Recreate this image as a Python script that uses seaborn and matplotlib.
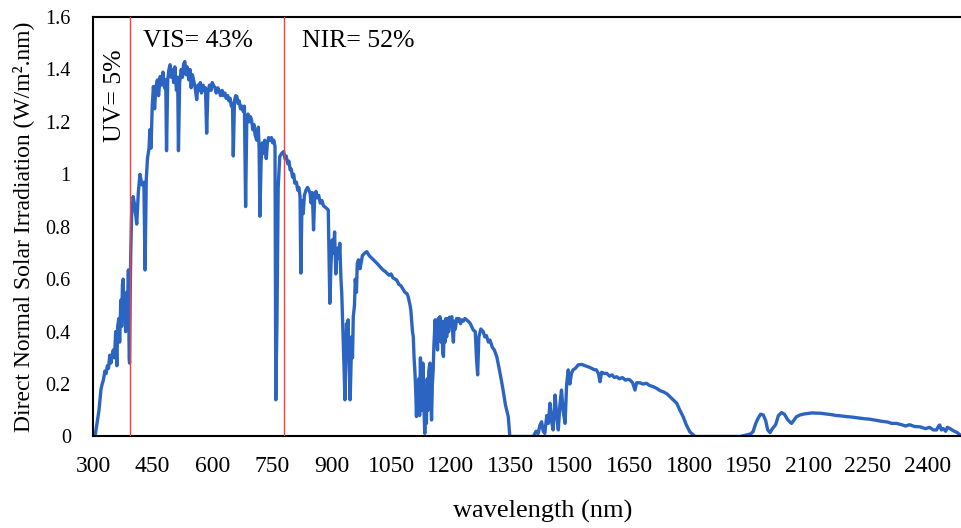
import matplotlib
matplotlib.use("Agg")
import matplotlib.pyplot as plt
import seaborn as sns
import pandas as pd
from matplotlib.ticker import FuncFormatter

# ---- data ----
# UV band (300-397 nm)
wl_uv = [300, 305, 310, 315, 320, 323, 326, 330, 333, 336, 339, 342, 345, 348, 351, 354, 357, 360,
         362, 365, 367, 370, 372, 374, 376, 378, 380, 382, 385, 387, 389, 391, 392, 394, 395, 397]
irr_uv = [0.0, 0.0, 0.05, 0.10, 0.18, 0.20, 0.215, 0.25, 0.24, 0.27, 0.26, 0.31, 0.28, 0.31, 0.33, 0.30, 0.40, 0.27,
          0.42, 0.45, 0.36, 0.52, 0.42, 0.58, 0.60, 0.45, 0.50, 0.40, 0.55, 0.45, 0.635, 0.30, 0.28, 0.60, 0.70, 0.84]

# visible band (401-780 nm)
wl_vis = [401, 405, 410, 414, 418, 423, 428, 431, 434, 437, 441,
          443, 446, 449, 452, 455, 458, 462, 465, 469, 472, 476, 480, 483, 485, 488, 491, 494, 497, 500, 503,
          506, 510, 513, 515, 518,
          522, 525, 528, 531, 534, 537, 541, 544, 547, 550, 553, 557, 561, 564, 567, 570, 573, 577, 580, 583,
          586, 589, 593, 597, 600,
          603, 607, 610, 614, 617, 621, 625, 628, 632, 635, 639, 642, 645, 648, 651, 653, 656, 659, 662, 665,
          668, 671, 675, 678, 681,
          684, 687, 690, 693, 696, 699, 702, 705, 708, 712, 716, 718, 720, 723, 726, 729, 732, 736, 739, 742,
          745, 749, 752, 755, 758,
          760, 763, 766, 770, 775, 780]
irr_vis = [0.915, 0.88, 0.81, 0.93, 1.0, 0.96, 0.97, 0.635, 0.98, 1.06, 1.10,
           1.17, 1.10, 1.26, 1.335, 1.25, 1.33, 1.36, 1.30, 1.373, 1.34, 1.39, 1.33, 1.36, 1.09, 1.36, 1.40, 1.418, 1.37, 1.40, 1.35,
           1.41, 1.32, 1.37, 1.09, 1.35,
           1.40, 1.37, 1.42, 1.43, 1.38, 1.41, 1.36, 1.40, 1.33, 1.38, 1.36, 1.33, 1.285, 1.34, 1.32, 1.35, 1.31, 1.34, 1.32, 1.33,
           1.157, 1.31, 1.34, 1.32, 1.35,
           1.34, 1.33, 1.31, 1.33, 1.32, 1.30, 1.32, 1.30, 1.31, 1.29, 1.30, 1.28, 1.29, 1.26, 1.27, 1.07, 1.28, 1.30, 1.297, 1.27,
           1.28, 1.25, 1.26, 1.24, 1.26,
           0.877, 1.21, 1.23, 1.20, 1.22, 1.208, 1.17, 1.19, 1.15, 1.13, 1.18, 1.10, 0.84, 1.05, 1.12, 1.08, 1.13, 1.06, 1.12, 1.14,
           1.13, 1.14, 1.12, 1.13, 1.106,
           0.14, 0.45, 0.95, 1.068, 1.08, 1.087]

# near-infrared band (783-2487 nm)
wl_nir = [783, 786, 790, 793, 796, 799, 802, 805, 808, 812, 815, 818, 821, 823, 826, 829, 832, 836, 840, 843,
          846, 849, 852, 855, 858, 861, 864, 868, 872, 876, 880, 884, 888, 892,
          896, 899, 902, 905, 908, 911, 914, 917, 919, 921, 924, 926, 928, 930, 932, 934, 936, 938, 940, 942,
          944, 947, 949, 951, 953, 955, 958, 960, 963, 965, 968,
          972, 978, 984, 989, 995, 1005, 1015, 1022, 1030, 1035, 1045, 1050, 1055, 1064, 1070, 1075, 1085, 1090, 1093, 1098,
          1100, 1104, 1106, 1108, 1110, 1112, 1114, 1116, 1118, 1120, 1122, 1124, 1126, 1128, 1130, 1133, 1135, 1137,
          1139, 1141, 1143, 1145, 1148, 1150, 1152, 1154, 1156, 1158,
          1161, 1163, 1165, 1167, 1169, 1171, 1173, 1176, 1178, 1180, 1182, 1184, 1186, 1188, 1190, 1193, 1195, 1197,
          1199, 1201, 1203, 1205, 1207, 1209, 1212, 1215, 1218, 1221, 1225, 1228, 1232, 1236, 1240, 1244, 1249,
          1257, 1262, 1265, 1268, 1271, 1276, 1282, 1286, 1290, 1295, 1299, 1305, 1310, 1316, 1322, 1327, 1332, 1338,
          1345, 1349, 1408,
          1415, 1420, 1425, 1429, 1433, 1437, 1442, 1446, 1450, 1454, 1458, 1463, 1467, 1471, 1475, 1479, 1483, 1488,
          1492, 1496, 1500, 1504, 1508,
          1514, 1521, 1530, 1538, 1546, 1555, 1561, 1567, 1572, 1576, 1580, 1587, 1593, 1600, 1606, 1612, 1618, 1625,
          1632, 1640, 1646, 1651, 1658, 1664, 1668, 1676, 1684, 1693, 1700, 1710, 1718, 1727, 1736, 1745, 1752, 1760,
          1769, 1777, 1785, 1793, 1802, 1815,
          1928, 1945, 1955, 1961, 1968, 1974, 1980, 1987, 1993, 1998, 2004, 2010, 2018, 2025,
          2033, 2040, 2048, 2054, 2058, 2063, 2070, 2079, 2090, 2100, 2110, 2120, 2129, 2140, 2150,
          2160, 2170, 2180, 2196, 2210, 2225, 2240, 2255, 2270, 2285, 2300, 2310, 2322, 2335, 2345,
          2355, 2368, 2381, 2395, 2405, 2415, 2423, 2428, 2431, 2435, 2440, 2446, 2450, 2456, 2465,
          2475, 2482, 2487]
irr_nir = [1.06, 1.07, 1.04, 1.05, 1.017, 1.02, 0.99, 1.0, 0.966, 0.97, 0.94, 0.95, 0.915, 0.623, 0.90, 0.85, 0.92, 0.94, 0.95, 0.94,
           0.93, 0.89, 0.93, 0.788, 0.92, 0.935, 0.91, 0.92, 0.89, 0.90, 0.88, 0.875, 0.87, 0.864,
           0.508, 0.66, 0.75, 0.70, 0.78, 0.62, 0.70, 0.72, 0.68, 0.737, 0.60, 0.546, 0.45, 0.35, 0.25, 0.14, 0.30, 0.43, 0.35, 0.445,
           0.30, 0.14, 0.25, 0.38, 0.30, 0.457, 0.50, 0.60, 0.55, 0.66, 0.674,
           0.64, 0.69, 0.70, 0.705, 0.69, 0.675, 0.66, 0.648, 0.635, 0.63, 0.615, 0.62, 0.605, 0.597, 0.58, 0.575, 0.55, 0.545, 0.534, 0.50,
           0.48, 0.40, 0.381, 0.30, 0.25, 0.18, 0.076, 0.20, 0.12, 0.22, 0.08, 0.30, 0.15, 0.10, 0.28, 0.10, 0.012, 0.15,
           0.05, 0.22, 0.10, 0.25, 0.28, 0.15, 0.063, 0.20, 0.25, 0.35,
           0.445, 0.35, 0.44, 0.33, 0.45, 0.38, 0.457, 0.36, 0.44, 0.32, 0.305, 0.44, 0.36, 0.45, 0.38, 0.45, 0.40, 0.455,
           0.42, 0.45, 0.457, 0.40, 0.36, 0.44, 0.41, 0.45, 0.44, 0.45, 0.43, 0.445, 0.44, 0.45, 0.445, 0.44, 0.432,
           0.406, 0.40, 0.30, 0.235, 0.38, 0.41, 0.40, 0.38, 0.385, 0.36, 0.368, 0.34, 0.33, 0.305, 0.26, 0.22, 0.177, 0.12,
           0.076, 0.0, 0.0,
           0.02, 0.01, 0.044, 0.056, 0.02, 0.012, 0.08, 0.05, 0.127, 0.06, 0.025, 0.158, 0.08, 0.025, 0.12, 0.177, 0.10, 0.05,
           0.20, 0.254, 0.20, 0.24, 0.254,
           0.26, 0.273, 0.275, 0.27, 0.266, 0.26, 0.255, 0.254, 0.24, 0.209, 0.245, 0.24, 0.241, 0.23, 0.235, 0.225, 0.228, 0.22,
           0.225, 0.215, 0.218, 0.216, 0.205, 0.177, 0.205, 0.205, 0.20, 0.203, 0.195, 0.19, 0.184, 0.175, 0.17, 0.162, 0.152, 0.14,
           0.127, 0.10, 0.076, 0.045, 0.018, 0.0,
           0.0, 0.006, 0.01, 0.018, 0.05, 0.07, 0.085, 0.082, 0.06, 0.025, 0.015, 0.03, 0.045, 0.08,
           0.091, 0.085, 0.065, 0.055, 0.05, 0.06, 0.075, 0.082, 0.086, 0.088, 0.09, 0.089, 0.089, 0.087, 0.085,
           0.083, 0.08, 0.079, 0.076, 0.074, 0.071, 0.068, 0.066, 0.062, 0.058, 0.055, 0.05, 0.05, 0.045, 0.04,
           0.045, 0.038, 0.037, 0.03, 0.035, 0.025, 0.025, 0.04, 0.044, 0.025, 0.03, 0.02, 0.035, 0.031, 0.022,
           0.015, 0.006, 0.002]

band_edges = [393, 780]
band_labels = ["UV= 5%", "VIS= 43%", "NIR= 52%"]
x_ticks = [300, 450, 600, 750, 900, 1050, 1200, 1350, 1500, 1650, 1800, 1950, 2100, 2250, 2400]
y_ticks = [0, 0.2, 0.4, 0.6, 0.8, 1.0, 1.2, 1.4, 1.6]

df = pd.DataFrame({"wavelength": wl_uv + wl_vis + wl_nir,
                   "irradiance": irr_uv + irr_vis + irr_nir})

sns.set_theme(style="white")
plt.rcParams["font.family"] = ["Liberation Serif", "DejaVu Serif"]

fig = plt.figure(figsize=(9.62, 5.28), dpi=100)
ax = fig.add_axes([0.0967, 0.1733, 0.9033, 0.7945])

sns.lineplot(data=df, x="wavelength", y="irradiance", ax=ax, color="#2b65c1",
             linewidth=2.4, sort=False, estimator=None)

for edge in band_edges:
    ax.axvline(edge, color="#ff3b3b", linewidth=1.0, zorder=3)

ax.text(355, 1.30, band_labels[0], rotation=90, fontsize=18.5, ha="center", va="center", color="black")
ax.text(426, 1.51, band_labels[1], fontsize=18.5, ha="left", va="center", color="black")
ax.text(826, 1.51, band_labels[2], fontsize=18.5, ha="left", va="center", color="black")

ax.set_xlim(300, 2487)
ax.set_ylim(0, 1.6)
ax.set_xticks(x_ticks)
ax.set_yticks(y_ticks)
ax.yaxis.set_major_formatter(FuncFormatter(lambda v, p: "%g" % v))
ax.tick_params(axis="both", length=0, colors="black")
ax.tick_params(axis="x", pad=14, labelsize=17)
ax.tick_params(axis="y", pad=16, labelsize=14.5)

for side in ["left", "top", "bottom"]:
    ax.spines[side].set_visible(True)
    ax.spines[side].set_color("black")
    ax.spines[side].set_linewidth(1.5)
ax.spines["right"].set_visible(False)

ax.set_xlabel("wavelength (nm)", fontsize=19, color="black")
ax.xaxis.set_label_coords(0.517, -0.152)
ax.xaxis.label.set_verticalalignment("top")
ax.set_ylabel("Direct Normal Solar Irradiation (W/m².nm)", fontsize=17, labelpad=8, color="black")

fig.savefig("out.png", dpi=100)
